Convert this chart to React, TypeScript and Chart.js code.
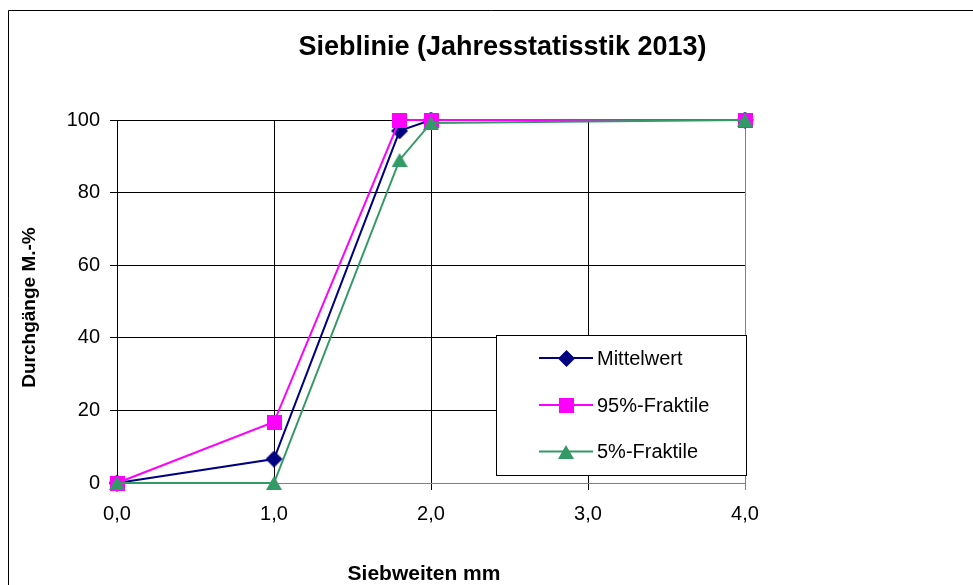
import { useEffect, useRef } from 'react';
import { Chart, registerables } from 'chart.js';

Chart.register(...registerables);

const FONT = '"Liberation Sans", Arial, Helvetica, sans-serif';

const chartTitle = 'Sieblinie (Jahresstatisstik 2013)';
const xAxisTitle = 'Siebweiten mm';
const yAxisTitle = 'Durchgänge M.-%';
const seriesNames = ['Mittelwert', '95%-Fraktile', '5%-Fraktile'];
const seriesColors = ['#000080', '#FF00FF', '#339966'];

const sieveSizes = [0, 1, 1.8, 2, 4];
const mittelwert = [0, 6.6, 97, 100, 100];
const fraktile95 = [0, 16.8, 100, 100, 100];
const fraktile5 = [0, 0, 89, 99.2, 100];

const xTickValues = [0, 1, 2, 3, 4];
const yTickValues = [0, 20, 40, 60, 80, 100];

function makeMarker(kind: string, color: string): HTMLCanvasElement {
  const c = document.createElement('canvas');
  const ctx = c.getContext('2d')!;
  if (kind === 'diamond') {
    c.width = 17; c.height = 17;
    ctx.fillStyle = color;
    ctx.beginPath();
    ctx.moveTo(8.5, 0); ctx.lineTo(17, 8.5); ctx.lineTo(8.5, 17); ctx.lineTo(0, 8.5);
    ctx.closePath(); ctx.fill();
  } else if (kind === 'square') {
    c.width = 15; c.height = 15;
    ctx.fillStyle = color;
    ctx.fillRect(0, 0, 15, 15);
  } else {
    c.width = 16; c.height = 14;
    ctx.fillStyle = color;
    ctx.beginPath();
    ctx.moveTo(8, 0); ctx.lineTo(16, 14); ctx.lineTo(0, 14);
    ctx.closePath(); ctx.fill();
  }
  return c;
}

export default function App() {
  const ref = useRef<HTMLCanvasElement | null>(null);

  useEffect(() => {
    document.body.style.margin = '0';
    const canvas = ref.current;
    if (!canvas) return;
    const markers = [
      makeMarker('diamond', seriesColors[0]),
      makeMarker('square', seriesColors[1]),
      makeMarker('triangle', seriesColors[2]),
    ];
    const seriesValues = [mittelwert, fraktile95, fraktile5];

    const decorPlugin = {
      id: 'decor',
      beforeDraw(chart: any) {
        const ctx = chart.ctx;
        ctx.save();
        ctx.fillStyle = '#ffffff';
        ctx.fillRect(0, 0, chart.width, chart.height);
        ctx.strokeStyle = '#000000';
        ctx.lineWidth = 1;
        ctx.beginPath();
        ctx.moveTo(8.5, chart.height + 5);
        ctx.lineTo(8.5, 10.5);
        ctx.lineTo(chart.width + 5, 10.5);
        ctx.stroke();
        ctx.fillStyle = '#000000';
        ctx.textAlign = 'center';
        ctx.textBaseline = 'alphabetic';
        ctx.font = `bold 27px ${FONT}`;
        ctx.fillText(chartTitle, 502.5, 55);
        ctx.font = `bold 21px ${FONT}`;
        ctx.fillText(xAxisTitle, 424, 580);
        ctx.translate(35, 307.5);
        ctx.rotate(-Math.PI / 2);
        ctx.font = `bold 19px ${FONT}`;
        ctx.fillText(yAxisTitle, 0, 0);
        ctx.restore();
      },
      afterDatasetsDraw(chart: any) {
        const ctx = chart.ctx;
        ctx.save();
        ctx.fillStyle = '#ffffff';
        ctx.fillRect(496, 335, 251, 141);
        ctx.strokeStyle = '#000000';
        ctx.lineWidth = 1;
        ctx.strokeRect(496.5, 335.5, 250, 140);
        const rows = [358, 405, 451.5];
        ctx.font = `20px ${FONT}`;
        ctx.textAlign = 'left';
        ctx.textBaseline = 'middle';
        rows.forEach((y, i) => {
          ctx.strokeStyle = seriesColors[i];
          ctx.lineWidth = 2;
          ctx.beginPath();
          ctx.moveTo(539, y);
          ctx.lineTo(593, y);
          ctx.stroke();
          const m = markers[i];
          ctx.drawImage(m, Math.round(566 - m.width / 2), Math.round(y - m.height / 2));
          ctx.fillStyle = '#000000';
          ctx.fillText(seriesNames[i], 597, y + 1);
        });
        ctx.restore();
      },
    };

    const datasets = seriesValues.map((vals, i) => ({
      label: seriesNames[i],
      data: vals.map((v, j) => ({ x: sieveSizes[j], y: v })),
      borderColor: seriesColors[i],
      backgroundColor: seriesColors[i],
      borderWidth: 2,
      pointStyle: markers[i],
      pointRadius: 8,
      tension: 0,
      clip: false as any,
      order: 2 - i,
    }));

    const chart = new Chart(canvas, {
      type: 'line',
      data: { datasets },
      options: {
        responsive: false,
        animation: false,
        devicePixelRatio: 1,
        layout: { padding: { left: 0, top: 120, right: 228, bottom: 0 } },
        plugins: {
          legend: { display: false },
          title: { display: false },
          tooltip: { enabled: false },
        },
        scales: {
          x: {
            type: 'linear',
            min: 0,
            max: 4,
            afterFit: (s: any) => { s.height = 102; },
            afterBuildTicks: (s: any) => { s.ticks = xTickValues.map((v) => ({ value: v })); },
            ticks: {
              color: '#000000',
              font: { family: FONT, size: 20 },
              padding: 12,
              maxRotation: 0,
              callback: (v: any) => Number(v).toFixed(1).replace('.', ','),
            },
            grid: {
              color: (c: any) => (c.tick && c.tick.value === 4 ? '#808080' : '#000000'),
              lineWidth: 1,
              tickLength: 7,
              drawTicks: true,
            },
            border: { display: true, color: '#808080', width: 1 },
          },
          y: {
            type: 'linear',
            min: 0,
            max: 100,
            afterFit: (s: any) => { s.width = 117; },
            afterBuildTicks: (s: any) => { s.ticks = yTickValues.map((v) => ({ value: v })); },
            ticks: {
              color: '#000000',
              font: { family: FONT, size: 20 },
              padding: 10,
              callback: (v: any) => String(v),
            },
            grid: {
              color: (c: any) => (c.tick && c.tick.value === 0 ? '#808080' : '#000000'),
              lineWidth: 1,
              tickLength: 7,
              drawTicks: true,
            },
            border: { display: true, color: '#000000', width: 1 },
          },
        },
      },
      plugins: [decorPlugin],
    });

    return () => { chart.destroy(); };
  }, []);

  return (
    <div style={{ width: 973, height: 585 }}>
      <canvas ref={ref} width={973} height={585} style={{ display: 'block', width: 973, height: 585 }} />
    </div>
  );
}
